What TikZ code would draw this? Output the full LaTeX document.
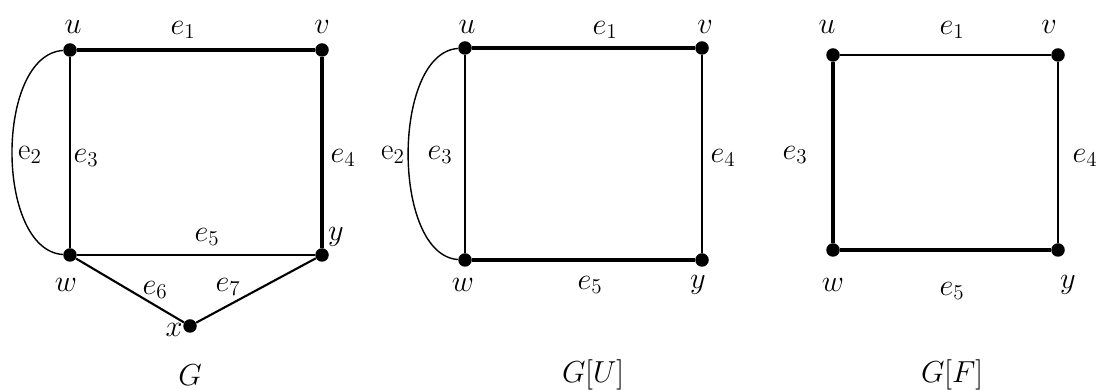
\documentclass[tikz,border=0pt]{standalone}
\usepackage{amsmath}
\usepackage{tikz}

\begin{document}
\begin{tikzpicture}[every node/.style={font=\LARGE, inner sep=1pt},
  vtx/.style={circle, fill, inner sep=0pt, minimum size=0.27cm},
  thin edge/.style={line width=0.8pt},
  mid edge/.style={line width=1.2pt},
  thick edge/.style={line width=2pt}]
\useasboundingbox (0,0) rectangle (21.96,7.8);
% --- graph G ---
\node[vtx] (u1) at (1.4,6.8)  {};
\node[vtx] (v1) at (6.44,6.8) {};
\node[vtx] (w1) at (1.4,2.7)  {};
\node[vtx] (y1) at (6.44,2.7) {};
\node[vtx] (x1) at (3.8,1.28) {};
\draw[thick edge] (u1) -- (v1);
\draw[thick edge] (v1) -- (y1);
\draw[thin edge]  (u1) -- (w1);
\draw[mid edge]   (w1) -- (y1);
\draw[mid edge]   (w1) -- (x1);
\draw[mid edge]   (x1) -- (y1);
\draw[thin edge]  (u1) .. controls (-0.1,6.7) and (-0.1,2.8) .. (w1);
\node (lu1) at (1.46,7.26) {$u$};
\node (lv1) at (6.44,7.26) {$v$};
\node (lw1) at (1.32,2.1)  {$w$};
\node (ly1) at (6.72,3.06) {$y$};
\node (lx1) at (3.48,1.2)  {$x$};
\node (le1) at (3.66,7.2)  {$e_1$};
\node (le2) at (0.6,4.7)   {$\mathrm{e}_2$};
\node (le3) at (1.72,4.64) {$e_3$};
\node (le4) at (6.86,4.64) {$e_4$};
\node (le5) at (4.14,3.06) {$e_5$};
\node (le6) at (3.1,2.0)   {$e_6$};
\node (le7) at (4.56,2.06) {$e_7$};
\node (nG)  at (3.8,0.3)   {$G$};
% --- G[U] ---
\begin{scope}[xshift=7.9cm]
  \node[vtx] (u2) at (1.4,6.84)  {};
  \node[vtx] (v2) at (6.14,6.84) {};
  \node[vtx] (w2) at (1.4,2.6)   {};
  \node[vtx] (y2) at (6.14,2.6)  {};
  \draw[thick edge] (u2) -- (v2);
  \draw[thin edge]  (v2) -- (y2);
  \draw[thin edge]  (u2) -- (w2);
  \draw[thick edge] (w2) -- (y2);
  \draw[thin edge]  (u2) .. controls (-0.07,6.74) and (-0.07,2.7) .. (w2);
  \node (lu2) at (1.44,7.26) {$u$};
  \node (lv2) at (6.2,7.26)  {$v$};
  \node (lw2) at (1.36,2.1)  {$w$};
  \node (ly2) at (6.06,2.1)  {$y$};
  \node (le1b) at (4.2,7.2)  {$e_1$};
  \node (le2b) at (-0.04,4.7) {$\mathrm{e}_2$};
  \node (le3b) at (0.9,4.7)  {$e_3$};
  \node (le4b) at (6.56,4.64) {$e_4$};
  \node (le5b) at (3.9,2.1)  {$e_5$};
  \node (nGU) at (3.96,0.3)  {$G[U]$};
\end{scope}
% --- G[F] ---
\begin{scope}[xshift=15.26cm]
  \node[vtx] (u3) at (1.4,6.7) {};
  \node[vtx] (v3) at (5.9,6.7) {};
  \node[vtx] (w3) at (1.4,2.8) {};
  \node[vtx] (y3) at (5.9,2.8) {};
  \draw[thin edge]  (u3) -- (v3);
  \draw[thin edge]  (v3) -- (y3);
  \draw[thick edge] (u3) -- (w3);
  \draw[thick edge] (w3) -- (y3);
  \node (lu3) at (1.28,7.26) {$u$};
  \node (lv3) at (5.72,7.26) {$v$};
  \node (lw3) at (1.4,2.1)   {$w$};
  \node (ly3) at (6.1,2.1)   {$y$};
  \node (le1c) at (3.78,7.2) {$e_1$};
  \node (le3c) at (0.64,4.7) {$e_3$};
  \node (le4c) at (6.44,4.64) {$e_4$};
  \node (le5c) at (3.78,1.98) {$e_5$};
  \node (nGF) at (3.78,0.3)  {$G[F]$};
\end{scope}
\end{tikzpicture}
\end{document}
